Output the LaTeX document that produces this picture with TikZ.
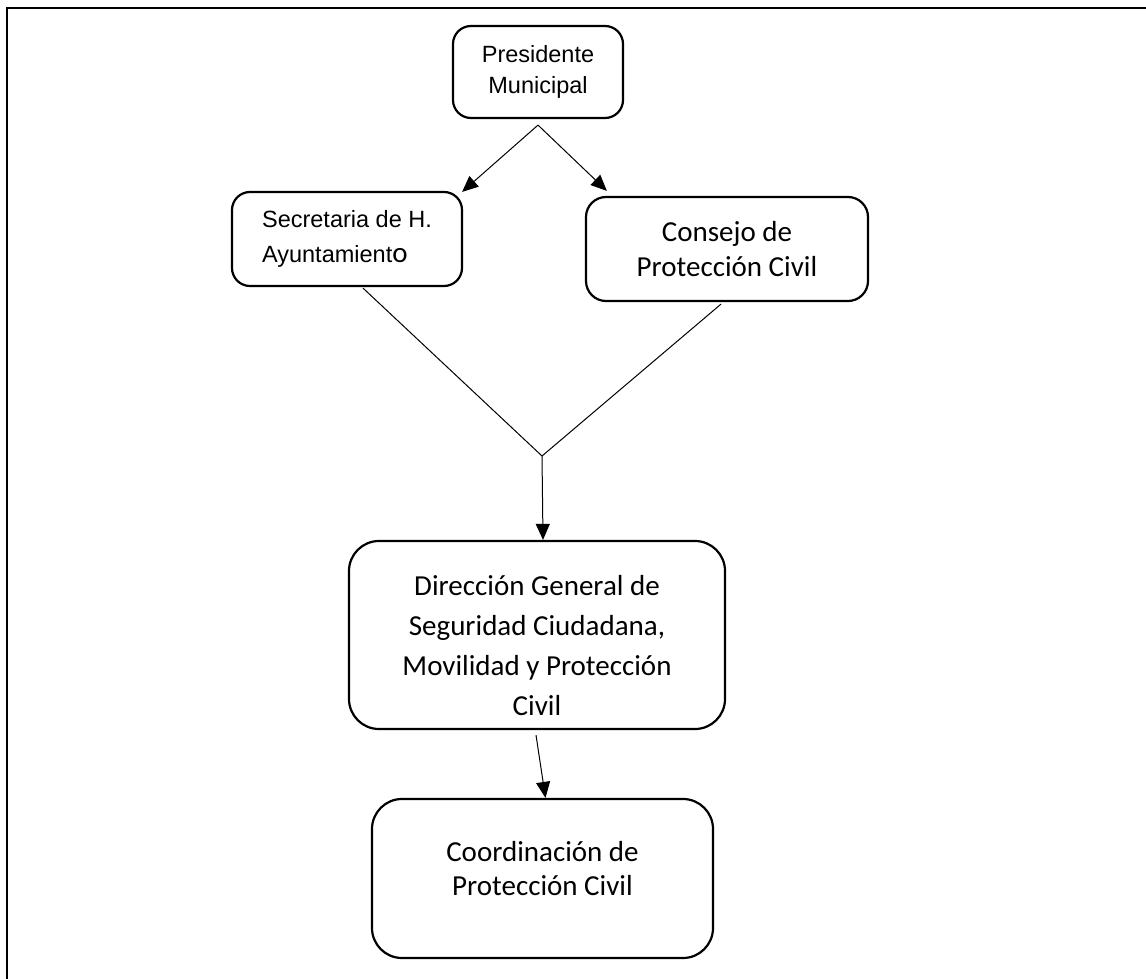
\documentclass[tikz,border=0pt]{standalone}
\usepackage{fontspec}
\usetikzlibrary{arrows.meta}
\newfontfamily\arialf{Liberation Sans}
\newfontfamily\calibrif{Carlito}
\begin{document}
\begin{tikzpicture}[x=1pt,y=-1pt,
  box/.style={draw, line width=2.2pt, rounded corners=#1, inner sep=0pt, align=center},
  box/.default=18pt,
  conn/.style={line width=1pt},
  arr/.style={conn, -{Triangle[length=16pt,width=14pt]}},
  afont/.style={font={\arialf\fontsize{23.5}{31}\selectfont}},
  cfont/.style={font={\calibrif\fontsize{29}{35}\selectfont}}
]
\useasboundingbox (0,0) rectangle (1146,979);
% page frame (top and left edges only)
\draw[line width=2.2pt] (7,979) -- (7,8) -- (1146,8);

\node[box=18pt, afont, minimum width=170pt, minimum height=92pt] (pres) at (538,72) {Presidente\\Municipal};
\node[box=18pt, font={\arialf\fontsize{23.5}{35}\selectfont}, align=left, minimum width=230pt, minimum height=94pt] (sec) at (347,239)
  {Secretaria de H.\\Ayuntamient{\calibrif\fontsize{29}{29}\selectfont o}};
\node[box=20pt, font={\calibrif\fontsize{29}{36}\selectfont}, minimum width=282pt, minimum height=104pt] (cons) at (727,249) {\raisebox{-4pt}{Consejo de}\\\raisebox{-3pt}{Protección Civil}};
\node[box=30pt, minimum width=376pt, minimum height=188pt,
  label={[font={\calibrif\fontsize{29}{40}\selectfont}, align=center, yshift=-11pt]center:{Dirección General de\\Seguridad Ciudadana,\\Movilidad y Protección\\Civil}}] (dir) at (537,635) {};
\node[box=30pt, minimum width=341pt, minimum height=159pt,
  label={[font={\calibrif\fontsize{29}{34}\selectfont}, align=center, yshift=10pt]center:{Coordinación de\\Protección Civil}}] (coord) at (542.5,878.5) {};

\coordinate (top) at ([yshift=-6pt]pres.south);
\coordinate (J) at (542,456);

\draw[arr] (top) -- ([xshift=-1pt,yshift=-1pt]sec.north east);
\draw[arr] (top) -- ([xshift=22pt,yshift=5pt]cons.north west);
\draw[conn] ([xshift=16pt,yshift=-1pt]sec.south) -- (J);
\draw[conn] ([xshift=-6pt,yshift=-2pt]cons.south) -- (J);
\draw[arr] (J) -- ([xshift=6pt]dir.north);
\draw[arr] ([xshift=-1pt,yshift=-5pt]dir.south) -- ([xshift=3pt]coord.north);
\end{tikzpicture}
\end{document}
